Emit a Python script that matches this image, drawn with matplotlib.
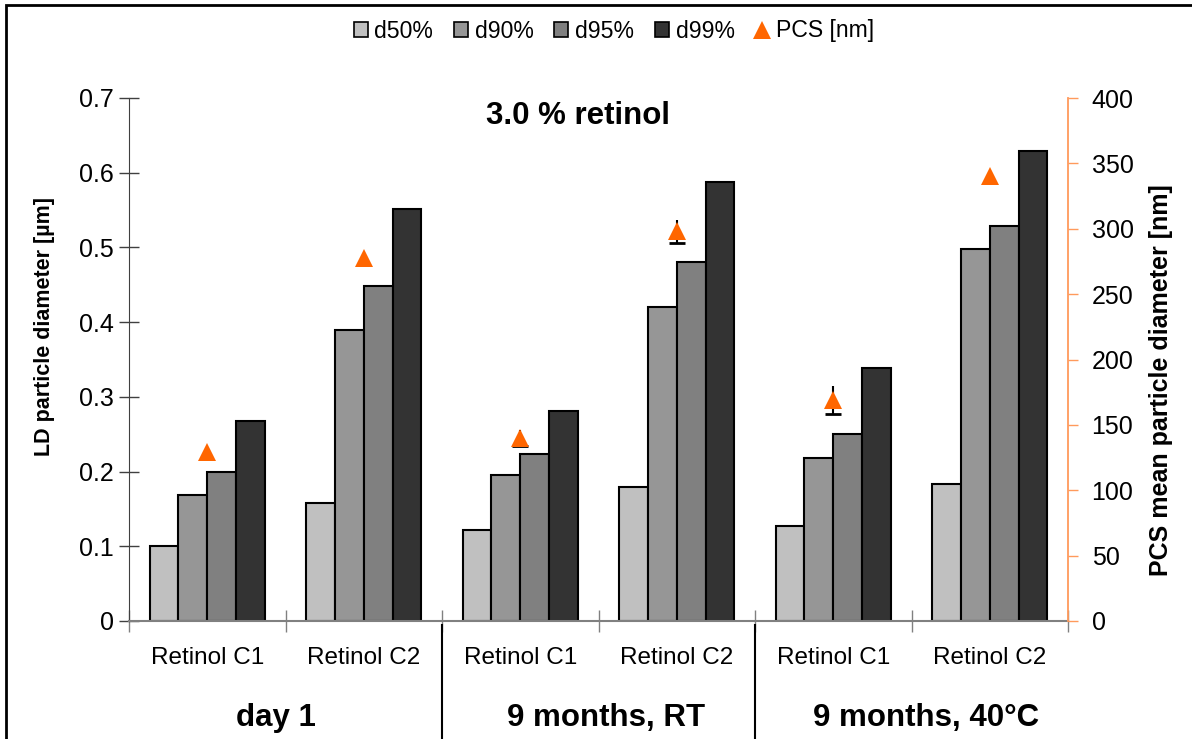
import matplotlib
matplotlib.use("Agg")
import matplotlib.pyplot as plt
from matplotlib.lines import Line2D
from matplotlib.patches import Patch, Rectangle
import numpy as np

# ---- data -------------------------------------------------------------
categories = ["Retinol C1", "Retinol C2"] * 3
groups = ["day 1", "9 months, RT", "9 months, 40°C"]
series_names = ["d50%", "d90%", "d95%", "d99%"]
d50 = [0.100, 0.158, 0.122, 0.180, 0.127, 0.184]
d90 = [0.169, 0.389, 0.195, 0.420, 0.218, 0.498]
d95 = [0.200, 0.449, 0.224, 0.480, 0.250, 0.529]
d99 = [0.268, 0.551, 0.281, 0.587, 0.339, 0.629]
pcs_nm = [129, 278, 140, 298, 169, 340]
pcs_err = [0, 0, 6, 9, 10.5, 0]

plt.rcParams["font.family"] = ["Liberation Sans", "DejaVu Sans"]

bar_colors = ["#C0C0C0", "#969696", "#808080", "#333333"]
orange = "#FF6600"
axis_orange = "#FF9A5C"

W, H = 1192, 739
fig = plt.figure(figsize=(W / 100, H / 100), dpi=100)
ax = fig.add_axes([129 / W, 1 - 621 / H, (1068 - 129) / W, (621 - 98) / H])

x = np.arange(len(categories))
w = 0.184
for i, (vals, col) in enumerate(zip([d50, d90, d95, d99], bar_colors)):
    ax.bar(x + (i - 1.5) * w, vals, width=w, color=col, edgecolor="black",
           linewidth=1.5, zorder=2)

ax.set_xlim(-0.5, len(categories) - 0.5)
ax.set_ylim(0, 0.7)
ax.set_yticks(np.arange(0, 0.71, 0.1))
ax.set_yticklabels(["0"] + [f"{v:.1f}" for v in np.arange(0.1, 0.71, 0.1)])
ax.tick_params(axis="y", direction="inout", length=14, width=1, labelsize=18,
               pad=4, color="#404040")

for s in ["top", "right"]:
    ax.spines[s].set_visible(False)
ax.spines["left"].set_color("#404040")
ax.spines["bottom"].set_color("#808080")
ax.spines["bottom"].set_linewidth(1.5)

# category boundaries on the x axis
ax.set_xticks(np.arange(-0.5, len(categories) + 0.5, 1.0))
ax.set_xticklabels([])
ax.tick_params(axis="x", direction="inout", length=16, width=1, color="#808080")

# category and group labels below the axis
for xi, lab in zip(x, categories):
    ax.text(xi, -0.05, lab, ha="center", va="center", fontsize=17.5,
            transform=ax.transData, clip_on=False)
group_x = [276, 606, 926]
for gx, g in zip(group_x, groups):
    fig.text(gx / W, 1 - 718 / H, g, ha="center", va="center",
             fontsize=22.5, fontweight="bold")
for sx in [1.5, 3.5]:
    ax.plot([sx, sx], [-0.005, -0.2], color="black", lw=1.5, clip_on=False,
            transform=ax.transData)

fig.text(578 / W, 1 - 116 / H, "3.0 % retinol", ha="center", va="center",
         fontsize=22.5, fontweight="bold")

# axis titles
fig.text(45 / W, 1 - 327 / H, "LD particle diameter [µm]", rotation=90,
         ha="center", va="center", fontsize=15.5, fontweight="bold")
fig.text(1161 / W, 1 - 380 / H, "PCS mean particle diameter [nm]", rotation=90,
         ha="center", va="center", fontsize=18, fontweight="bold")

# right axis with PCS diameters
ax2 = ax.twinx()
ax2.set_ylim(0, 400)
ax2.set_yticks(np.arange(0, 401, 50))
pcs = np.array(pcs_nm, dtype=float)
err = np.array(pcs_err, dtype=float)
has_err = err > 0
ax2.errorbar(x[has_err], pcs[has_err], yerr=err[has_err], fmt="none",
             ecolor="black", elinewidth=1.5, capsize=0, zorder=3)
ax2.plot(x[has_err], pcs[has_err] - err[has_err], linestyle="none", marker="_",
         markersize=12, markeredgewidth=2, color="black", zorder=3)
ax2.plot(x, pcs, linestyle="none", marker="^", markersize=13, color=orange,
         markeredgewidth=0, zorder=4)
for s in ["top", "left", "bottom"]:
    ax2.spines[s].set_visible(False)
ax2.spines["right"].set_color(axis_orange)
ax2.spines["right"].set_linewidth(1.3)
ax2.tick_params(axis="y", direction="out", length=7, width=1, colors=axis_orange,
                labelcolor="black", labelsize=18, pad=10)

# legend
handles = [Patch(facecolor=c, edgecolor="black", linewidth=1.2) for c in bar_colors]
handles.append(Line2D([], [], linestyle="none", marker="^", markersize=13,
                      color=orange, markeredgewidth=0))
fig.legend(handles, series_names + ["PCS [nm]"], loc="center",
           bbox_to_anchor=(614 / W, 1 - 31 / H), ncol=5, frameon=False,
           fontsize=16.6, handlelength=0.6, handleheight=0.6, handletextpad=0.3,
           columnspacing=0.9)

# figure frame
fig.add_artist(Rectangle((6 / W, -0.1), 1.2, 1.1 - 5 / H, transform=fig.transFigure,
                         fill=False, edgecolor="black", linewidth=2))

fig.savefig("out.png", dpi=100)
